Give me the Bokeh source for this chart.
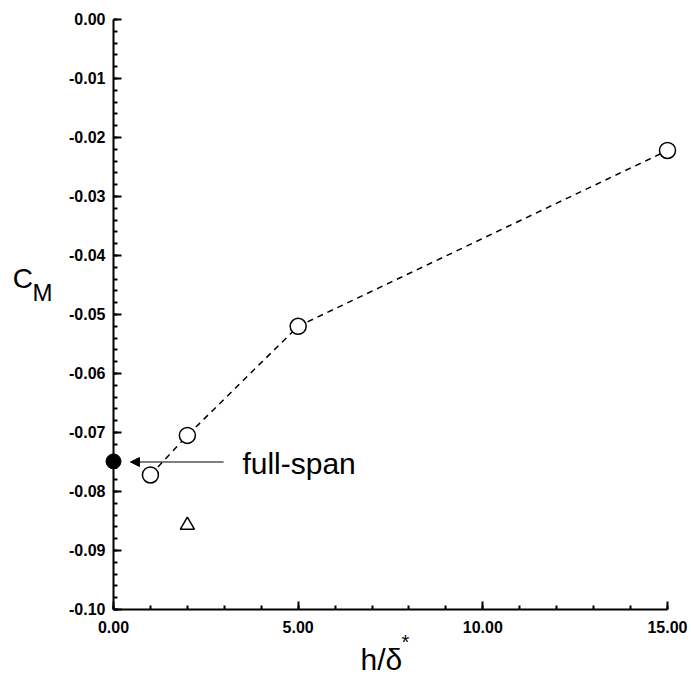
from bokeh.plotting import figure
from bokeh.models import (Range1d, SingleIntervalTicker, PrintfTickFormatter,
                          Label, Arrow, NormalHead)
from bokeh.embed import file_html
from bokeh.resources import INLINE

# data
h_open = [1.0, 2.0, 5.0, 15.0]
cm_open = [-0.0772, -0.0705, -0.0520, -0.0222]
h_full = [0.0]
cm_full = [-0.0749]
h_tri = [2.0]
cm_tri = [-0.0857]
arrow_from = (2.98, -0.0750)
arrow_to = (0.46, -0.0750)
annot_text = "full-span"
x_axis_span = (0.0, 15.0)
y_axis_span = (-0.10, 0.0)

p = figure(width=691, height=675, output_backend="svg", toolbar_location=None,
           x_range=Range1d(-3.0596, 15.650), y_range=Range1d(-0.11119, 0.00322),
           min_border=0, min_border_left=0, min_border_right=0,
           min_border_top=0, min_border_bottom=0)
p.outline_line_color = None
p.xgrid.visible = False
p.ygrid.visible = False
p.background_fill_color = "white"
p.border_fill_color = "white"

for ax in (p.xaxis[0], p.yaxis[0]):
    ax.axis_line_width = 2
    ax.axis_line_color = "black"
    ax.major_tick_line_width = 2
    ax.minor_tick_line_width = 2
    ax.major_tick_out = 0
    ax.minor_tick_out = 0
    ax.major_tick_in = 8
    ax.minor_tick_in = 4
    ax.major_label_text_font = "Liberation Sans"
    ax.major_label_text_font_size = "16px"
    ax.major_label_text_font_style = "bold"
    ax.major_label_text_color = "black"
    ax.formatter = PrintfTickFormatter(format="%.2f")

p.xaxis[0].ticker = SingleIntervalTicker(interval=5, num_minor_ticks=5)
p.yaxis[0].ticker = SingleIntervalTicker(interval=0.01, num_minor_ticks=5)
p.xaxis[0].bounds = x_axis_span
p.yaxis[0].bounds = y_axis_span
p.yaxis[0].fixed_location = x_axis_span[0]
p.xaxis[0].fixed_location = y_axis_span[0]
p.xaxis[0].major_label_standoff = 12
p.yaxis[0].major_label_standoff = 8

# dashed line and markers
p.line(h_open, cm_open, line_color="black", line_width=1.5, line_dash="6 5")
p.scatter(h_open, cm_open, marker="circle", size=16, line_color="black",
          line_width=1.5, fill_color="white")
p.scatter(h_full, cm_full, marker="circle", size=15, line_color="black",
          fill_color="black")
p.scatter(h_tri, cm_tri, marker="triangle", size=14, line_color="black",
          line_width=1.5, fill_color="white")

p.add_layout(Arrow(end=NormalHead(size=9, fill_color="black", line_color="black"),
                   x_start=arrow_from[0], y_start=arrow_from[1],
                   x_end=arrow_to[0], y_end=arrow_to[1],
                   line_width=1.2, line_color="black"))

p.add_layout(Label(x=3.49, y=-0.0752, text=annot_text, text_font="Liberation Sans",
                   text_font_size="30px", text_baseline="alphabetic", text_color="black"))

# axis titles
p.add_layout(Label(x=-2.73, y=-0.0439, text="C", text_font="Liberation Sans",
                   text_font_size="28px", text_baseline="alphabetic", text_color="black"))
p.add_layout(Label(x=-2.19, y=-0.0463, text="M", text_font="Liberation Sans",
                   text_font_size="24px", text_baseline="alphabetic", text_color="black"))
p.add_layout(Label(x=6.69, y=-0.1084, text="h/δ", text_font="Liberation Sans",
                   text_font_size="30px", text_baseline="alphabetic", text_color="black"))
p.add_layout(Label(x=7.80, y=-0.1055, text="*", text_font="Liberation Sans",
                   text_font_size="20px", text_baseline="alphabetic", text_color="black"))

open("out.html", "w").write(file_html(p, INLINE))
